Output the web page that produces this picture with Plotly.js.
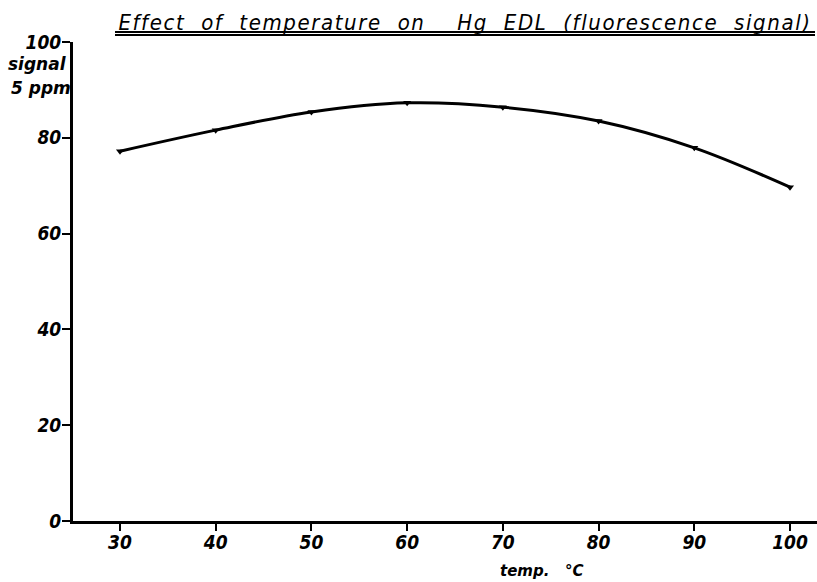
<!DOCTYPE html>
<html>
<head>
<meta charset="utf-8">
<script src="https://cdn.plot.ly/plotly-3.0.1.min.js"></script>
<style>
html, body { margin: 0; padding: 0; background: #fff; }
#chart { width: 817px; height: 582px; }
.gtitle { letter-spacing: 1.6px; word-spacing: 8px; }
</style>
</head>
<body>
<div id="chart"></div>
<script>
// Data
var temperatures = [30, 40, 50, 60, 70, 80, 90, 100];
var signal5ppm = [77.2, 81.6, 85.4, 87.3, 86.4, 83.5, 77.9, 69.7];
var xTickValues = [30, 40, 50, 60, 70, 80, 90, 100];
var xTickLabels = ['30', '40', '50', '60', '70', '80', '90', '100'];
var yTickValues = [0, 20, 40, 60, 80, 100];
var yTickLabels = ['0', '20', '40', '60', '80', '100'];
var titleText = 'Effect of temperature on  Hg EDL (fluorescence signal)';
var yLabelLines = ['signal', '5 ppm'];
var xLabelText = 'temp.\u00a0\u00a0 °C';

var W = 817, H = 582;
var mL = 73, mR = 0, mT = 42, mB = 61;
var plotW = W - mL - mR, plotH = H - mT - mB;
function px(x) { return (x - mL) / plotW; }
function py(y) { return (H - mB - y) / plotH; }

var condensed = 'DejaVu Sans Condensed, DejaVu Sans, sans-serif';
var tickFont = { family: condensed, size: 19, color: '#000', weight: 'bold', style: 'italic' };
var labelFont = { family: 'DejaVu Sans, sans-serif', size: 17, color: '#000', weight: 'bold', style: 'italic' };
var xLabelFont = { family: 'DejaVu Sans, sans-serif', size: 15, color: '#000', weight: 'bold', style: 'italic' };

var trace = {
  x: temperatures,
  y: signal5ppm,
  mode: 'lines+markers',
  line: { color: '#000', width: 3, shape: 'spline', smoothing: 1 },
  marker: { symbol: 'triangle-down', size: 7, color: '#000' },
  hoverinfo: 'skip',
  showlegend: false
};

var layout = {
  width: W, height: H,
  margin: { l: mL, r: mR, t: mT, b: mB, pad: 0 },
  paper_bgcolor: '#fff',
  plot_bgcolor: '#fff',
  title: {
    text: titleText,
    font: { family: condensed, size: 22, color: '#000', style: 'italic' },
    xref: 'container', yref: 'container',
    x: 465 / W, y: 1 - 22 / H,
    xanchor: 'center', yanchor: 'middle'
  },
  xaxis: {
    range: [25.09, 102.82],
    tickvals: xTickValues,
    ticktext: xTickLabels,
    ticks: 'outside', ticklen: 7, tickwidth: 2, tickcolor: '#000',
    showline: true, linecolor: '#000', linewidth: 3,
    showgrid: false, zeroline: false,
    tickfont: tickFont,
    ticklabelstandoff: -5
  },
  yaxis: {
    range: [0, 100],
    tickvals: yTickValues,
    ticktext: yTickLabels,
    ticks: 'outside', ticklen: 8, tickwidth: 2, tickcolor: '#000',
    showline: true, linecolor: '#000', linewidth: 3,
    showgrid: false, zeroline: false,
    tickfont: tickFont,
    ticklabelstandoff: -3
  },
  annotations: [
    { text: yLabelLines[0], xref: 'paper', yref: 'paper', x: px(69), y: py(64), xanchor: 'right', yanchor: 'middle', showarrow: false, font: labelFont },
    { text: yLabelLines[1], xref: 'paper', yref: 'paper', x: px(73), y: py(88), xanchor: 'right', yanchor: 'middle', showarrow: false, font: labelFont },
    { text: xLabelText, xref: 'paper', yref: 'paper', x: px(542), y: py(571), xanchor: 'center', yanchor: 'middle', showarrow: false, font: xLabelFont }
  ],
  shapes: [
    { type: 'line', xref: 'paper', yref: 'paper', x0: px(115), x1: px(815), y0: py(32), y1: py(32), line: { color: '#000', width: 2 } },
    { type: 'line', xref: 'paper', yref: 'paper', x0: px(115), x1: px(815), y0: py(35), y1: py(35), line: { color: '#000', width: 2 } }
  ]
};

Plotly.newPlot('chart', [trace], layout, { displayModeBar: false, staticPlot: true });
</script>
</body>
</html>
